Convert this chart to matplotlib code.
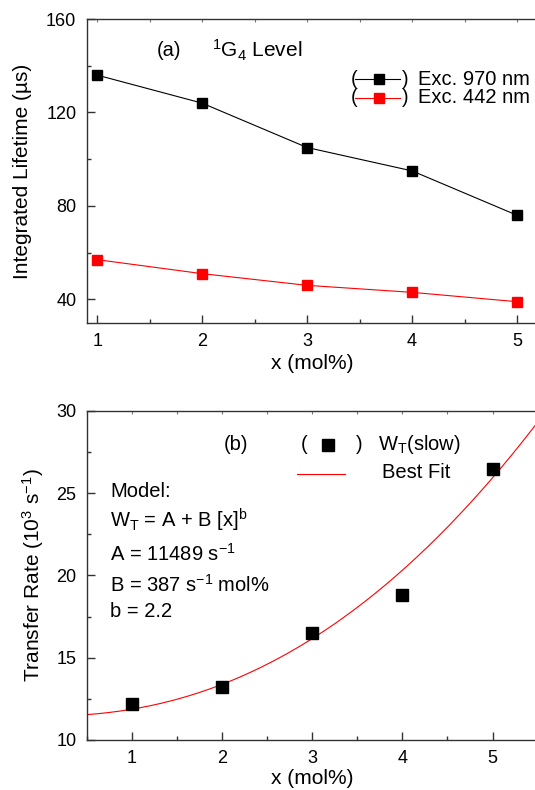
import matplotlib
matplotlib.use("Agg")
import matplotlib.pyplot as plt
from matplotlib.ticker import MultipleLocator
import numpy as np

plt.rcParams['font.family'] = ['Liberation Sans', 'DejaVu Sans']
plt.rcParams['mathtext.default'] = 'regular'

# data -- panel (a)
x_conc = [1, 2, 3, 4, 5]
life_970 = [136, 124, 105, 95, 76]
life_442 = [57, 51, 46, 43, 39]

# data -- panel (b)
wt_slow = [12.2, 13.2, 16.5, 18.8, 26.5]
# best-fit curve parameters (as drawn, 10^3 s^-1)
fit_A = 11.45
fit_B = 0.42
fit_b = 2.2

AX_COLOR = '#333333'

fig = plt.figure(figsize=(5.35, 7.9), dpi=100)
ax1 = fig.add_axes([0.162, 0.5915, 0.8436, 0.3844])
ax2 = fig.add_axes([0.162, 0.0633, 0.843, 0.4165])


def style_axes(ax):
    for s in ax.spines.values():
        s.set_linewidth(1.0)
        s.set_color(AX_COLOR)
    ax.tick_params(which='both', direction='in', color=AX_COLOR,
                   labelsize=13, top=False, right=False)
    ax.tick_params(which='major', length=6, width=1.0, pad=7.5)
    ax.tick_params(which='minor', length=3, width=1.0)
    sec = ax.secondary_xaxis('top')
    sec.set_xticks(np.arange(0.5, 6.0, 0.5))
    sec.tick_params(direction='in', length=2.5, width=0.8, color='#777777',
                    labeltop=False)
    sec.spines['top'].set_visible(False)


# ---- panel (a)
ax1.plot(x_conc, life_970, '-', color='black', lw=0.8,
         marker='s', ms=7.5, mfc='black', mec='black')
ax1.plot(x_conc, life_442, '-', color='red', lw=0.8,
         marker='s', ms=7.5, mfc='red', mec='red')
ax1.set_xlim(0.9, 5.2)
ax1.set_ylim(30, 160)
ax1.set_xticks([1, 2, 3, 4, 5])
ax1.set_yticks([40, 80, 120, 160])
ax1.xaxis.set_minor_locator(MultipleLocator(0.5))
ax1.yaxis.set_minor_locator(MultipleLocator(20))
style_axes(ax1)
ax1.set_xlabel('x (mol%)', fontsize=15, labelpad=3)
ax1.set_ylabel('Integrated Lifetime (µs)', fontsize=15, labelpad=10)

ax1.text(0.1542, 0.878, '(a)', transform=ax1.transAxes, fontsize=14.5,
         va='baseline')
ax1.text(0.2768, 0.874, '$^1$G$_4$ Level', transform=ax1.transAxes,
         fontsize=15, va='baseline')

for yrow, col, lab in [(0.8017, 'black', 'Exc. 970 nm'),
                       (0.7409, 'red', 'Exc. 442 nm')]:
    ax1.text(0.5857, yrow, '(', transform=ax1.transAxes, fontsize=14.5,
             va='center', ha='left')
    ax1.plot([0.5949, 0.6946], [yrow, yrow], '-', color=col, lw=0.8,
             transform=ax1.transAxes, clip_on=False)
    ax1.plot([0.6477], [yrow], 's', color=col, ms=7.5,
             transform=ax1.transAxes, clip_on=False)
    ax1.text(0.6986, yrow, ')', transform=ax1.transAxes, fontsize=14.5,
             va='center', ha='left')
    ax1.text(0.7348, yrow, lab, transform=ax1.transAxes, fontsize=14.5,
             va='center', ha='left')

# ---- panel (b)
xfit = np.linspace(0.5, 5.5, 300)
ax2.plot(xfit, fit_A + fit_B * xfit ** fit_b, '-', color='red', lw=0.8)
ax2.plot(x_conc, wt_slow, 's', color='black', ms=8)
ax2.set_xlim(0.5, 5.5)
ax2.set_ylim(10, 30)
ax2.set_xticks([1, 2, 3, 4, 5])
ax2.set_yticks([10, 15, 20, 25, 30])
ax2.xaxis.set_minor_locator(MultipleLocator(0.5))
ax2.yaxis.set_minor_locator(MultipleLocator(2.5))
style_axes(ax2)
ax2.set_xlabel('x (mol%)', fontsize=15, labelpad=1)
ax2.set_ylabel('Transfer Rate (10$^3$ s$^{-1}$)', fontsize=15, labelpad=7)

ax2.text(0.3033, 0.8967, '(b)', transform=ax2.transAxes, fontsize=14.5,
         va='center')
ax2.text(0.4736, 0.8967, '(', transform=ax2.transAxes, fontsize=14.5,
         va='center')
ax2.plot([0.5357], [0.8967], 's', color='black', ms=8,
         transform=ax2.transAxes, clip_on=False)
ax2.text(0.5962, 0.8967, ')', transform=ax2.transAxes, fontsize=14.5,
         va='center')
ax2.text(0.6463, 0.8967, 'W$_T$(slow)', transform=ax2.transAxes,
         fontsize=14.5, va='center')
ax2.plot([0.4663, 0.5727], [0.8097, 0.8097], '-', color='red', lw=0.8,
         transform=ax2.transAxes)
ax2.text(0.6541, 0.8125, 'Best Fit', transform=ax2.transAxes,
         fontsize=14.5, va='center')

model_lines = ['Model:',
               'W$_T$ = A + B [x]$^b$',
               'A = 11489 s$^{-1}$',
               'B = 387 s$^{-1}$ mol%',
               'b = 2.2']
model_y = [0.7377, 0.6465, 0.545, 0.4508, 0.3748]
for txt, yy in zip(model_lines, model_y):
    ax2.text(0.0521, yy, txt, transform=ax2.transAxes, fontsize=14.5,
             va='baseline')

fig.savefig('out.png', dpi=100)
